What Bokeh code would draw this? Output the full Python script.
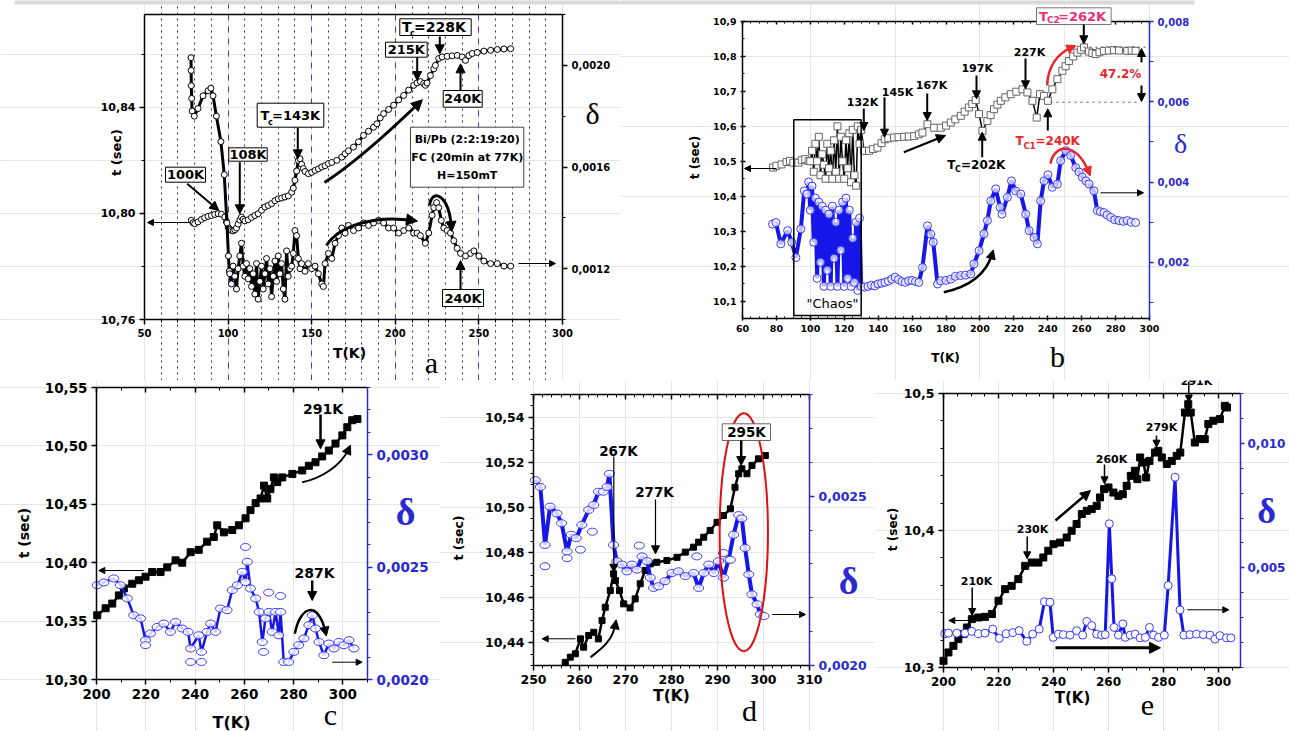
import math
from bokeh.plotting import figure
from bokeh.models import (Range1d, LinearAxis, FixedTicker, CustomJSTickFormatter,
                          Label, Arrow, NormalHead, BoxAnnotation, Grid)
from bokeh.layouts import row, column
from bokeh.embed import file_html
from bokeh.resources import INLINE

# ======================= DATA =======================
# ---- panel a ----
A_T_TEMP = [78, 79, 80, 82, 84, 86, 88, 90, 92, 94, 96, 98, 99, 100, 101, 102, 103, 104, 105, 106,
            107, 108, 109, 110, 112, 114, 116, 118, 120, 122, 124, 126, 128, 130, 132, 134, 136, 138, 139, 140,
            141, 142, 143, 144, 145, 146, 148, 150, 152, 154, 156, 158, 160, 162, 165, 168, 170, 172, 175, 178,
            181, 184, 187, 189, 191, 193, 196, 199, 202, 205, 208, 211, 213, 215, 217, 218, 219, 221, 223, 224,
            226, 228, 231, 234, 237, 240, 242, 244, 246, 249, 253, 257, 261, 265, 269]
A_T_VAL = [10.7974, 10.7965, 10.7961, 10.7968, 10.7977, 10.7984, 10.7989, 10.7992, 10.7996, 10.7999,
           10.7997, 10.7986, 10.7968, 10.7948, 10.7940, 10.7936, 10.7934, 10.7938, 10.7945, 10.7960,
           10.7975, 10.7986, 10.7978, 10.7972, 10.7976, 10.7985, 10.7992, 10.7999, 10.8012, 10.8024,
           10.8030, 10.8037, 10.8048, 10.8055, 10.8058, 10.8062, 10.8066, 10.8080, 10.8095, 10.8125,
           10.8160, 10.8200, 10.8206, 10.8185, 10.8169, 10.8158, 10.8150, 10.8155, 10.8162, 10.8168,
           10.8175, 10.8180, 10.8188, 10.8192, 10.8200, 10.8212, 10.8225, 10.8236, 10.8250, 10.8270,
           10.8294, 10.8310, 10.8325, 10.8338, 10.8360, 10.8376, 10.8392, 10.8408, 10.8428, 10.8445,
           10.8465, 10.8483, 10.8492, 10.8497, 10.8490, 10.8483, 10.8492, 10.8520, 10.8545, 10.8558,
           10.8584, 10.8590, 10.8592, 10.8594, 10.8596, 10.8590, 10.8577, 10.8595, 10.8603, 10.8607,
           10.8612, 10.8615, 10.8618, 10.8620, 10.8621]
A_D_TEMP = [77.8, 77.9, 78.0, 78.2, 78.5, 79.8, 82, 85, 88, 89.7, 91, 93, 95.7, 97.7, 99.3, 100.2, 100.7,
            101, 102, 103, 104, 105, 106, 107, 108, 109, 110, 111, 112, 113, 114, 115, 116, 117, 118, 119, 120,
            121, 122, 123, 124, 125, 126, 127, 128, 129, 130, 131, 132, 133, 134, 135, 136, 137, 138, 139, 140,
            141, 142, 143, 144, 146, 148, 150, 152, 154, 156, 157, 158, 160, 162, 164, 166, 168, 170,
            172, 175, 178, 181, 184, 187, 190, 193, 196, 199, 202, 205, 208, 211, 213, 215, 218, 220, 222, 223,
            224.7, 226, 227.5, 229, 231, 233, 235, 237, 239, 242, 245, 247, 250, 253, 257, 261, 265, 269]
A_D_VAL = [0.00203, 0.00198, 0.00192, 0.00187, 0.00182, 0.00180, 0.00183, 0.00188, 0.00190, 0.00191,
           0.00188, 0.00180, 0.00170, 0.00157, 0.00138, 0.00125, 0.00119,
           0.00118, 0.00114, 0.00121, 0.00117, 0.00112, 0.00120, 0.00125, 0.00130, 0.00121, 0.00117,
           0.00122, 0.00116, 0.00120, 0.00113, 0.00118, 0.00110, 0.00122, 0.00108, 0.00115, 0.00121,
           0.00112, 0.00118, 0.00124, 0.00114, 0.00120, 0.00109, 0.00117, 0.00123, 0.00115, 0.00125,
           0.00118, 0.00122, 0.00112, 0.00108, 0.00127, 0.00117, 0.00120, 0.00121, 0.00126, 0.00135,
           0.00133, 0.00124, 0.00120, 0.00122, 0.00119, 0.00122, 0.00120, 0.00121, 0.00118, 0.00114,
           0.00113, 0.00122, 0.00126, 0.00124, 0.00130, 0.00133, 0.00136, 0.00134,
           0.00137, 0.00135, 0.00136, 0.00138, 0.00137, 0.00138, 0.00139, 0.00138, 0.00136, 0.00136,
           0.00134, 0.00135, 0.00136, 0.00134, 0.00134, 0.00133, 0.00130, 0.00134, 0.00141, 0.00144,
           0.00146, 0.00144, 0.00139, 0.00136, 0.00135, 0.00134, 0.00131, 0.00128, 0.00126, 0.00125,
           0.00126, 0.00127, 0.00125, 0.00123, 0.00122, 0.00122, 0.00121, 0.00121]

# ---- panel b ----
B_T_TEMP = [78, 80, 83, 86, 88, 90, 93, 95, 97, 99,
            100, 101, 102, 103, 104, 105, 106, 107, 108, 109, 110, 111, 112, 113, 114, 115, 116, 117, 118, 119,
            120, 121, 122, 123, 124, 125, 126, 127, 128, 129, 130,
            131.7, 134.6, 137, 139.6, 142, 143.9, 146, 149.4, 152, 155.3, 158, 161.2, 164, 166.1, 169.1, 173,
            176.9, 180, 182.8, 185.5, 188.7, 191, 193.6, 195.5, 197.5, 199.5, 201.5, 204.4, 206.3, 208.3,
            210.3, 212.3, 215, 218.2, 221.5, 225.1, 228, 231, 233.5, 235.4, 237.8, 240.1, 242.7, 245.7,
            248.6, 250.5, 252.5, 255, 257.5, 259.5, 261.4, 264.3, 266.3, 268.3, 270.5, 273.1, 276, 279, 282,
            286.9, 289.5, 291.8]
B_T_VAL = [10.482, 10.487, 10.491, 10.498, 10.501, 10.496, 10.496, 10.503, 10.506, 10.501,
           10.50, 10.53, 10.47, 10.55, 10.50, 10.57, 10.46, 10.52, 10.49, 10.45, 10.55, 10.48, 10.53, 10.45,
           10.56, 10.47, 10.60, 10.45, 10.57, 10.50, 10.45, 10.56, 10.48, 10.58, 10.44, 10.59, 10.46, 10.43,
           10.60, 10.55, 10.59,
           10.530, 10.530, 10.535, 10.539, 10.552, 10.563, 10.566, 10.568, 10.569, 10.570, 10.571, 10.572,
           10.577, 10.582, 10.606, 10.596, 10.596, 10.602, 10.611, 10.620, 10.630, 10.642, 10.654, 10.664,
           10.675, 10.635, 10.587, 10.615, 10.632, 10.649, 10.662, 10.673, 10.683, 10.692, 10.699, 10.706,
           10.697, 10.673, 10.625, 10.692, 10.687, 10.673, 10.706, 10.735, 10.759, 10.772, 10.787, 10.800,
           10.811, 10.819, 10.826, 10.814, 10.810, 10.807, 10.812, 10.816, 10.817, 10.818, 10.817, 10.816,
           10.817, 10.816]
B_D_TEMP = [77.7, 79.7, 82.6, 86.6, 89, 91.5, 94.4, 96.4, 98,
            99, 100, 101, 102, 103, 104, 105, 106, 107, 108, 109, 110, 111, 112, 113, 114, 115, 116, 117, 118,
            119, 120, 121, 122, 123, 124, 125, 126, 127, 128, 129, 130,
            132, 134, 136, 138, 140, 142, 144, 146, 148, 150, 152, 154, 156, 158, 160, 162, 164, 166.1, 169.1,
            171, 172.5, 175, 176.9, 180, 182.8, 185.5, 188.7, 191.5, 194.6, 196.5, 199.5, 202.4, 204.4, 206.4,
            209.3, 211.9, 213, 216.2, 218.6, 221.1, 224.1, 227, 229, 231.9, 233.9, 235.8, 237.8, 240.1, 242.7,
            245.7, 247.6, 250.6, 253.5, 256.5, 258.5, 260.4, 262.5, 264.3, 267.2, 269.2, 271, 273.1, 275,
            277.1, 279.5, 282, 284.5, 286.9, 289.3, 291.8]
B_D_VAL = [0.00295, 0.00299, 0.00246, 0.00279, 0.00250, 0.00212, 0.00283, 0.00378, 0.00370,
           0.00400, 0.00330, 0.00390, 0.00250, 0.00360, 0.00160, 0.00350, 0.00200, 0.00340, 0.00140,
           0.00330, 0.00180, 0.00320, 0.00140, 0.00340, 0.00210, 0.00300, 0.00140, 0.00330, 0.00230,
           0.00350, 0.00140, 0.00360, 0.00160, 0.00330, 0.00140, 0.00260, 0.00150, 0.00300, 0.00130,
           0.00310, 0.00140,
           0.00138, 0.00140, 0.00143, 0.00141, 0.00146, 0.00148, 0.00150, 0.00153, 0.00158, 0.00163,
           0.00157, 0.00152, 0.00150, 0.00154, 0.00155, 0.00152, 0.00150, 0.00187, 0.00291, 0.00270,
           0.00250, 0.00146, 0.00154, 0.00155, 0.00158, 0.00165, 0.00167, 0.00168, 0.00171, 0.00196,
           0.00229, 0.00271, 0.00304, 0.00353, 0.00383, 0.00337, 0.00320, 0.00362, 0.00403, 0.00378,
           0.00370, 0.00320, 0.00279, 0.00262, 0.00246, 0.00353, 0.00403, 0.00418, 0.00387, 0.00395,
           0.00453, 0.00478, 0.00466, 0.00436, 0.00425, 0.00412, 0.00403, 0.00395, 0.00378, 0.00329,
           0.00326, 0.00324, 0.00318, 0.00312, 0.00306, 0.00304, 0.00302, 0.00304, 0.00300, 0.00299]

# ---- panel c ----
C_T_TEMP = [200.3, 203.7, 206.4, 209.1, 211.1, 214.5, 217.2, 219.9, 222.6, 226.0, 228.7, 232.1, 234.8,
            238.2, 241.5, 244.9, 247.6, 249.0, 251.7, 255.1, 257.8, 260.5, 262.5, 264.6, 266.6, 268.0,
            269.3, 270.6, 272.0, 273.4, 275.4, 279.5, 283.5, 286.2, 288.9, 291.6, 294.3, 297.0, 299.8,
            301.8, 303.8, 305.9]
C_T_VAL = [10.355, 10.361, 10.365, 10.372, 10.378, 10.382, 10.385, 10.388, 10.392, 10.392, 10.396, 10.402,
           10.400, 10.409, 10.411, 10.418, 10.422, 10.432, 10.426, 10.428, 10.432, 10.438, 10.445, 10.451,
           10.455, 10.466, 10.455, 10.463, 10.473, 10.469, 10.473, 10.476, 10.479, 10.483, 10.486, 10.491,
           10.496, 10.502, 10.509, 10.516, 10.522, 10.523]
C_D_TEMP = [200.3, 203.0, 207.0, 209.7, 212.5, 215.1, 217.9, 219.9, 221.9, 224.6, 227.3, 230.0, 232.1,
            234.8, 237.2, 238.2, 241.5, 242.6, 244.9, 246.3, 248.3, 250.3, 253.0, 255.1, 257.2, 259.2,
            260.5, 261.2, 262.5, 264.6, 266.0, 267.3, 268.6, 270.0, 271.3, 272.7, 274.0, 274.7, 276.0,
            278.0, 280.1, 282.1, 284.2, 286.2, 287.6, 288.9, 290.3, 292.3, 294.3, 296.4, 298.4, 300.4,
            302.5, 304.5]
C_D_VAL = [0.002420, 0.002432, 0.002450, 0.002420, 0.002361, 0.002286, 0.002272, 0.002175, 0.002205,
           0.002234, 0.002249, 0.002212, 0.002256, 0.002227, 0.002212, 0.002138, 0.002197, 0.002123,
           0.002212, 0.002249, 0.002212, 0.002316, 0.002309, 0.002398, 0.002420, 0.002479, 0.002434,
           0.002524, 0.002405, 0.002361, 0.002301, 0.002167, 0.002272, 0.002301, 0.002212, 0.002301,
           0.002197, 0.002301, 0.002078, 0.002078, 0.002123, 0.002153, 0.002183, 0.002242, 0.002286,
           0.002227, 0.002167, 0.002108, 0.002160, 0.002138, 0.002167, 0.002153, 0.002175, 0.002138]
C_DX_TEMP = [260.5, 269.9, 274.7, 267.8, 238.2, 242.6, 219.9]
C_DX_VAL = [0.002590, 0.002387, 0.002372, 0.002123, 0.002078, 0.002078, 0.002153]

# ---- panel d ----
D_T_TEMP = [256.9, 258.0, 259.1, 260.2, 260.9, 262.0, 263.1, 264.1, 264.9, 265.6, 266.7, 267.4,
            267.8, 268.7, 269.6, 271.0, 272.1, 273.2, 274.3, 275.4, 276.8, 279.0, 281.2, 283.0, 284.8,
            285.9, 287.0, 288.4, 289.9, 291.3, 292.8, 293.8, 294.6, 295.3, 296.4, 297.5, 298.9, 300.4]
D_T_VAL = [10.4314, 10.4337, 10.4352, 10.4418, 10.4381, 10.4433, 10.4447, 10.4418, 10.4499,
           10.4558, 10.4632, 10.4706, 10.4676, 10.4632, 10.4573, 10.4555, 10.4595, 10.4662, 10.4721,
           10.4750, 10.4757, 10.4765, 10.4779, 10.4802, 10.4824, 10.4846, 10.4868, 10.4898, 10.4934,
           10.4964, 10.4994, 10.5089, 10.5149, 10.5171, 10.5149, 10.5186, 10.5215, 10.5230]
D_D_TEMP = [250.4, 251.5, 252.5, 253.6, 255.1, 256.1, 257.3, 258.2, 259.3, 260.5, 262.0, 263.1, 264.1,
            265.2, 266.0, 266.5, 267.4, 268.1, 269.2, 270.3, 271.4, 272.5, 273.6, 274.7, 275.4, 276.1,
            277.2, 278.6, 280.1, 281.5, 283.0, 284.8, 285.9, 287.0, 288.1, 289.2, 290.2, 291.3, 292.4,
            293.5, 294.6, 295.3, 296.0, 296.8, 297.5, 298.6, 299.3, 300.1]
D_D_VAL = [0.002547, 0.002527, 0.002356, 0.002469, 0.002449, 0.002420, 0.002337, 0.002386, 0.002376,
           0.002415, 0.002459, 0.002474, 0.002513, 0.002513, 0.002527, 0.002566, 0.002356, 0.002308,
           0.002298, 0.002278, 0.002298, 0.002283, 0.002322, 0.002308, 0.002259, 0.002229, 0.002234,
           0.002249, 0.002273, 0.002278, 0.002264, 0.002273, 0.002229, 0.002273, 0.002298, 0.002273,
           0.002308, 0.002259, 0.002312, 0.002386, 0.002444, 0.002434, 0.002347, 0.002269, 0.002210,
           0.002181, 0.002151, 0.002146]
D_DX_TEMP = [252.5, 257.3, 260.2, 262.8, 273.0, 285.5, 291.3, 292.8]
D_DX_VAL = [0.002293, 0.002317, 0.002342, 0.002395, 0.002354, 0.002322, 0.002332, 0.002312]

# ---- panel e ----
E_T_TEMP = [200.0, 201.8, 203.6, 205.4, 207.3, 208.5, 210.3, 212.7, 215.1, 217.6, 220.0, 222.4, 224.8,
            227.2, 229.7, 232.1, 234.5, 236.3, 238.1, 240.0, 242.4, 244.8, 246.6, 248.4, 250.3, 252.1,
            253.9, 255.7, 256.9, 258.4, 260.0, 261.8, 263.6, 265.2, 266.6, 268.1, 269.6, 270.5, 271.5,
            272.7, 273.7, 274.9, 276.9, 278.1, 279.4, 281.2, 283.0, 284.8, 286.1, 287.8, 289.0, 289.9,
            291.4, 293.2, 295.0, 296.3, 298.1, 300.5, 302.3, 303.1]
E_T_VAL = [10.3049, 10.3110, 10.3158, 10.3207, 10.3244, 10.3292, 10.3353, 10.3365, 10.3370, 10.3390,
           10.3487, 10.3572, 10.3596, 10.3645, 10.3742, 10.3766, 10.3766, 10.3803, 10.3852, 10.3900,
           10.3912, 10.3949, 10.3998, 10.4047, 10.4120, 10.4144, 10.4156, 10.4180, 10.4241, 10.4302,
           10.4314, 10.4277, 10.4253, 10.4265, 10.4326, 10.4399, 10.4436, 10.4375, 10.4533, 10.4496,
           10.4387, 10.4508, 10.4569, 10.4582, 10.4533, 10.4485, 10.4508, 10.4545, 10.4569, 10.4861,
           10.4922, 10.4861, 10.4642, 10.4667, 10.4667, 10.4777, 10.4801, 10.4813, 10.4910, 10.4898]
E_D_TEMP = [200.5, 201.8, 204.8, 207.8, 210.3, 212.7, 215.1, 217.9, 220.3, 222.8, 225.2, 227.5, 230.3,
            232.4, 234.8, 236.7, 238.7, 239.9, 241.8, 243.6, 246.0, 248.4, 250.6, 252.1, 253.9, 255.7,
            257.5, 258.8, 260.3, 261.2, 262.0, 263.6, 265.2, 266.1, 267.9, 269.7, 271.5, 273.4, 274.9,
            276.4, 278.2, 280.3, 281.7, 284.2, 286.0, 287.4, 289.6, 292.0, 294.5, 296.9, 298.7, 300.5,
            302.9, 304.5]
E_D_VAL = [0.00236, 0.00238, 0.00238, 0.00238, 0.00245, 0.00236, 0.00238, 0.00254, 0.00217, 0.00236,
           0.00240, 0.00248, 0.00205, 0.00234, 0.00254, 0.00364, 0.00362, 0.00221, 0.00234, 0.00232,
           0.00230, 0.00248, 0.00230, 0.00285, 0.00268, 0.00234, 0.00230, 0.00232, 0.00677, 0.00456,
           0.00261, 0.00230, 0.00275, 0.00221, 0.00230, 0.00234, 0.00219, 0.00221, 0.00261, 0.00230,
           0.00221, 0.00230, 0.00429, 0.00864, 0.00331, 0.00230, 0.00232, 0.00234, 0.00232, 0.00230,
           0.00214, 0.00228, 0.00219, 0.00219]

# ---- ticks ----
A_X_TICKS = [50, 100, 150, 200, 250, 300]
A_L_TICKS = [10.76, 10.80, 10.84]
A_R_TICKS = [0.0012, 0.0016, 0.0020]
A_GRID_DOT = [60, 70, 80, 90, 110, 120, 130, 140, 160, 170, 180, 190, 210, 220, 230, 240, 260, 270, 280, 290]
A_GRID_DASH = [100, 150, 200, 250]
B_X_TICKS = [60, 80, 100, 120, 140, 160, 180, 200, 220, 240, 260, 280, 300]
B_L_TICKS = [10.1, 10.2, 10.3, 10.4, 10.5, 10.6, 10.7, 10.8, 10.9]
B_R_TICKS = [0.002, 0.004, 0.006, 0.008]
C_X_TICKS = [200, 220, 240, 260, 280, 300]
C_L_TICKS = [10.30, 10.35, 10.40, 10.45, 10.50, 10.55]
C_R_TICKS = [0.0020, 0.0025, 0.0030]
D_X_TICKS = [250, 260, 270, 280, 290, 300, 310]
D_L_TICKS = [10.44, 10.46, 10.48, 10.50, 10.52, 10.54]
D_R_TICKS = [0.0020, 0.0025]
E_X_TICKS = [200, 220, 240, 260, 280, 300]
E_L_TICKS = [10.3, 10.4, 10.5]
E_R_TICKS = [0.005, 0.010]

# ======================= STYLE / HELPERS =======================
SANS = "DejaVu Sans"
SERIF = "Liberation Serif"
BLUE = "#1616e8"
AXBLUE = "#2a2ad0"
MBLUE = "#3a3aff"
RED = "#e8262b"
MAGENTA = "#e8307a"


def steps(a, b, s):
    n = int(round((b - a) / s))
    return [round(a + i * s, 6) for i in range(n + 1)]


class M:
    """maps page pixels to the data units of a panel's plot box"""
    def __init__(s, fx0, fx1, fy0, fy1, xr, yr):
        s.fx0, s.fx1, s.fy0, s.fy1, s.xr, s.yr = fx0, fx1, fy0, fy1, xr, yr

    def x(s, px):
        return s.xr[0] + (px - s.fx0) * (s.xr[1] - s.xr[0]) / (s.fx1 - s.fx0)

    def y(s, py):
        return s.yr[1] - (py - s.fy0) * (s.yr[1] - s.yr[0]) / (s.fy1 - s.fy0)

    def dx(s, w):
        return w * (s.xr[1] - s.xr[0]) / (s.fx1 - s.fx0)

    def dy(s, h):
        return h * (s.yr[1] - s.yr[0]) / (s.fy1 - s.fy0)


def ext_x(r, p0, p1, total):
    s = (r[1] - r[0]) / (p1 - p0)
    return (r[0] - p0 * s, r[1] + (total - p1) * s)


def ext_y(r, p0, p1, total):
    s = (r[1] - r[0]) / (p1 - p0)
    return (r[0] - (total - p1) * s, r[1] + p0 * s)


def panel(w, h, box_px, xr, yr, yr2):
    fx0, fx1, fy0, fy1 = box_px
    p = figure(width=w, height=h, x_range=Range1d(*ext_x(xr, fx0, fx1, w)),
               y_range=Range1d(*ext_y(yr, fy0, fy1, h)),
               output_backend="svg", toolbar_location=None, title=None,
               x_axis_location=None, y_axis_location=None,
               min_border=0, min_border_left=0, min_border_right=0, min_border_top=0, min_border_bottom=0,
               background_fill_color="white", border_fill_color="white")
    p.extra_y_ranges = {"d": Range1d(*ext_y(yr2, fy0, fy1, h))}
    p.outline_line_color = None
    return p


def add_axis(p, side, fixed, bounds, ticks, minor, ndec, fs, color="black", tin=0, tout=5, mi=0, mo=3,
             standoff=4, labels=True, rname=None):
    kw = {"fixed_location": fixed, "bounds": bounds}
    if rname:
        kw["y_range_name"] = rname
    ax = LinearAxis(**kw)
    ax.ticker = FixedTicker(ticks=ticks, minor_ticks=minor)
    if labels:
        ax.formatter = CustomJSTickFormatter(code="return tick.toFixed(%d).replace('.', ',');" % ndec)
    else:
        ax.formatter = CustomJSTickFormatter(code="return '';")
    ax.axis_line_color = color
    ax.axis_line_width = 1.5
    ax.major_tick_line_color = color
    ax.minor_tick_line_color = color
    ax.major_tick_line_width = 1.5
    ax.minor_tick_line_width = 1
    ax.major_tick_in = tin
    ax.major_tick_out = tout
    ax.minor_tick_in = mi
    ax.minor_tick_out = mo
    ax.major_label_text_color = color
    ax.major_label_text_font = SANS
    ax.major_label_text_font_style = "bold"
    ax.major_label_text_font_size = "%spx" % fs
    ax.major_label_standoff = standoff
    p.add_layout(ax, side)
    return ax


def lab(p, m, px, py, text, fs=12, color="black", bold=True, font=SANS, align="center", angle=0.0):
    p.add_layout(Label(x=m.x(px), y=m.y(py), text=text, text_font=font, text_font_size="%spx" % fs,
                       text_font_style="bold" if bold else "normal", text_color=color,
                       text_align=align, text_baseline="middle", angle=angle))


def box(p, m, x0, x1, y0, y1, color="black", lw=1, fill="white"):
    p.add_layout(BoxAnnotation(left=m.x(x0), right=m.x(x1), top=m.y(y0), bottom=m.y(y1),
                               fill_color=fill if fill else "white", fill_alpha=1.0 if fill else 0.0,
                               line_color=color, line_alpha=1.0 if color else 0.0, line_width=lw))


def arrow(p, m, x0, y0, x1, y1, lw=2, hs=9, color="black"):
    p.add_layout(Arrow(end=NormalHead(size=hs, fill_color=color, line_color=color, line_width=1),
                       x_start=m.x(x0), y_start=m.y(y0), x_end=m.x(x1), y_end=m.y(y1),
                       line_width=lw, line_color=color))


def carrow(p, m, pts, lw=3, hs=11, color="black"):
    (x0, y0), (ax_, ay_), (bx_, by_), (x1, y1) = pts
    p.bezier(x0=[m.x(x0)], y0=[m.y(y0)], x1=[m.x(x1)], y1=[m.y(y1)],
             cx0=[m.x(ax_)], cy0=[m.y(ay_)], cx1=[m.x(bx_)], cy1=[m.y(by_)],
             line_width=lw, line_color=color)
    ddx, ddy = x1 - bx_, y1 - by_
    L = math.hypot(ddx, ddy) or 1.0
    ux, uy = ddx / L, ddy / L
    arrow(p, m, x1 - ux * 3, y1 - uy * 3, x1 + ux * 4, y1 + uy * 4, lw=lw, hs=hs, color=color)


# ======================= PANEL a =======================
A_XR, A_YR, A_YR2 = (50, 300), (10.76, 10.875), (0.0010, 0.0022)
ma = M(144, 562, 14, 319, A_XR, A_YR)
pa = panel(620, 380, (144, 562, 14, 319), A_XR, A_YR, A_YR2)
box(pa, ma, 14, 622, -2, 4, color=None, fill="#d9d9d9")
pa.add_layout(Grid(dimension=0, ticker=FixedTicker(ticks=A_GRID_DOT), bounds=A_YR, grid_line_color="#333333",
                   grid_line_dash="dotted", grid_line_width=1))
pa.add_layout(Grid(dimension=0, ticker=FixedTicker(ticks=A_GRID_DASH), bounds=A_YR, grid_line_color="#3b3bd6",
                   grid_line_dash="dashed", grid_line_width=1))
add_axis(pa, "below", A_YR[0], A_XR, A_X_TICKS, steps(50, 300, 10), 0, 10, tout=5, mo=3)
add_axis(pa, "left", A_XR[0], A_YR, A_L_TICKS, steps(10.76, 10.86, 0.02), 2, 11, tout=5, mo=3)
add_axis(pa, "right", A_XR[1], A_YR2, A_R_TICKS, steps(0.0010, 0.0022, 0.0002), 4, 10, tout=5, mo=3, rname="d")
add_axis(pa, "above", A_YR[1], A_XR, [], [], 0, 10, tout=0, mo=0, labels=False)

pa.line(A_T_TEMP, A_T_VAL, line_width=3, color="black")
pa.scatter(A_T_TEMP, A_T_VAL, marker="circle", size=6, fill_color="white", line_color="black", line_width=1)
pa.line(A_D_TEMP, A_D_VAL, y_range_name="d", line_width=3, color="black")
pa.scatter(A_D_TEMP, A_D_VAL, y_range_name="d", marker="circle", size=6, fill_color="white",
           line_color="black", line_width=1)

box(pa, ma, 165, 205, 166.7, 181.7)
lab(pa, ma, 185, 174.2, "100K", 13)
box(pa, ma, 228.3, 266.7, 147.3, 160.7)
lab(pa, ma, 247.5, 154, "108K", 13)
box(pa, ma, 256.7, 323.3, 102.7, 126.7)
lab(pa, ma, 260, 114.7, "T", 13, align="left")
lab(pa, ma, 267.5, 121.5, "c", 8, align="left")
lab(pa, ma, 271.5, 114.7, "=143K", 13, align="left")
box(pa, ma, 385, 426.7, 41.7, 56.7)
lab(pa, ma, 405.8, 49.2, "215K", 13)
box(pa, ma, 399.3, 470.7, 18.3, 35)
lab(pa, ma, 401.5, 26.7, "T", 14, align="left")
lab(pa, ma, 409.5, 33, "c", 8, align="left")
lab(pa, ma, 413.5, 26.7, "=228K", 14, align="left")
box(pa, ma, 442.7, 481.7, 90, 106.7)
lab(pa, ma, 462.2, 98.3, "240K", 13)
box(pa, ma, 442, 483, 289, 306)
lab(pa, ma, 462.5, 297.5, "240K", 13)
box(pa, ma, 410, 523.3, 126.7, 186.7, color="#444444")
lab(pa, ma, 466.7, 138.5, "Bi/Pb (2:2:19:20)", 11)
lab(pa, ma, 466.7, 156.7, "FC (20min at 77K)", 11)
lab(pa, ma, 466.7, 174.5, "H=150mT", 11)

arrow(pa, ma, 186.7, 183.3, 218.3, 210, lw=2, hs=9)
arrow(pa, ma, 239.3, 161.7, 239.3, 213.3, lw=2, hs=9)
arrow(pa, ma, 297.3, 127.3, 297.3, 158.3, lw=2, hs=9)
arrow(pa, ma, 416.7, 56.7, 416.7, 80, lw=2, hs=9)
arrow(pa, ma, 439.3, 36, 439.3, 53.3, lw=2, hs=9)
arrow(pa, ma, 460, 90, 460, 63.3, lw=2, hs=9)
arrow(pa, ma, 460, 289, 460, 260, lw=2, hs=9)
arrow(pa, ma, 190, 222, 147, 222, lw=1, hs=6)
arrow(pa, ma, 518, 263, 555, 263, lw=1, hs=6)
carrow(pa, ma, [(324, 182), (355, 162), (390, 130), (419, 102)], lw=3, hs=11)
carrow(pa, ma, [(326, 245), (338, 226), (372, 214), (413, 220)], lw=3, hs=11)
carrow(pa, ma, [(429, 205), (431, 188), (448, 192), (451, 227)], lw=3, hs=10)

lab(pa, ma, 592, 113, "δ", 30, bold=False, font=SERIF)
lab(pa, ma, 115.6, 152, "t (sec)", 13, angle=math.pi / 2)
lab(pa, ma, 349, 352, "T(K)", 14)
lab(pa, ma, 431, 362, "a", 30, bold=False, font=SERIF)

# ======================= PANEL b =======================
B_XR, B_YR, B_YR2 = (60, 300), (10.05, 10.9), (0.0006, 0.008)
mb = M(742, 1149, 21, 318, B_XR, B_YR)
pb = panel(669, 380, (122, 529, 21, 318), B_XR, B_YR, B_YR2)
box(pb, mb, 618, 1194, -2, 4, color=None, fill="#d9d9d9")
add_axis(pb, "below", B_YR[0], B_XR, B_X_TICKS, steps(60, 300, 5), 0, 9.5, tin=3, tout=2, mi=2, mo=0)
add_axis(pb, "above", B_YR[1], B_XR, B_X_TICKS, steps(60, 300, 5), 0, 9.5, tin=3, tout=0, mi=2, mo=0,
         labels=False)
add_axis(pb, "left", B_XR[0], B_YR, B_L_TICKS, steps(10.05, 10.9, 0.05), 1, 9.5, tin=3, tout=2, mi=2, mo=0)
add_axis(pb, "right", B_XR[1], B_YR2, B_R_TICKS, steps(0.001, 0.008, 0.001), 3, 10, color=AXBLUE,
         tin=0, tout=4, mi=0, mo=4, rname="d")

pb.line(B_T_TEMP, B_T_VAL, line_width=1.5, color="black")
pb.scatter(B_T_TEMP, B_T_VAL, marker="square", size=7, fill_color="white", line_color="#666666", line_width=1)
pb.line(B_D_TEMP, B_D_VAL, y_range_name="d", line_width=4, color=BLUE)
pb.scatter(B_D_TEMP, B_D_VAL, y_range_name="d", marker="circle", size=8, fill_color="white", fill_alpha=0.7,
           line_color=MBLUE, line_width=1)

box(pb, mb, 793.3, 860.7, 119.3, 315, fill=None, lw=1.5)
lab(pb, mb, 832, 303, "\"Chaos\"", 13, bold=False)
pb.segment(x0=[mb.x(1083)], y0=[mb.y(46.7)], x1=[mb.x(1149)], y1=[mb.y(46.7)],
           line_dash="dotted", line_color="#555555", line_width=1)
pb.segment(x0=[mb.x(1050)], y0=[mb.y(101.7)], x1=[mb.x(1140)], y1=[mb.y(101.7)],
           line_dash="dotted", line_color="#555555", line_width=1)

lab(pb, mb, 862, 102, "132K", 11)
lab(pb, mb, 897, 92, "145K", 11)
lab(pb, mb, 931, 85, "167K", 11)
lab(pb, mb, 976.7, 68.3, "197K", 11)
lab(pb, mb, 1029, 52.3, "227K", 11)
lab(pb, mb, 946.7, 164, "T", 12, align="left")
lab(pb, mb, 954.5, 168.5, "C", 8, align="left")
lab(pb, mb, 960.5, 164, "=202K", 12, align="left")
lab(pb, mb, 1015, 140, "T", 12, color=RED, align="left")
lab(pb, mb, 1023, 145, "C1", 8.5, color=RED, align="left")
lab(pb, mb, 1035, 140, "=240K", 12, color=RED, align="left")
box(pb, mb, 1036, 1110.6, 7.3, 24, color="#777777")
lab(pb, mb, 1038.5, 15.7, "T", 13, color=MAGENTA, align="left")
lab(pb, mb, 1046.5, 19.5, "C2", 9, color=MAGENTA, align="left")
lab(pb, mb, 1057.5, 15.7, "=262K", 13, color=MAGENTA, align="left")
lab(pb, mb, 1120, 73.3, "47.2%", 12, color=RED)

arrow(pb, mb, 863.3, 108, 863.3, 130, lw=2, hs=8)
arrow(pb, mb, 884, 96.7, 884, 136.7, lw=2, hs=8)
arrow(pb, mb, 926.7, 93, 926.7, 120, lw=2, hs=8)
arrow(pb, mb, 976, 75, 976, 98.3, lw=2, hs=8)
arrow(pb, mb, 1025, 58, 1025, 88.3, lw=2, hs=8)
arrow(pb, mb, 981.7, 156.7, 981.7, 131.7, lw=2, hs=8)
arrow(pb, mb, 1047.3, 130, 1047.3, 108.3, lw=2, hs=8)
arrow(pb, mb, 1083.3, 24, 1083.3, 43.3, lw=2, hs=8)
arrow(pb, mb, 1141, 62, 1141, 48, lw=2, hs=8)
arrow(pb, mb, 1141, 85, 1141, 101, lw=2, hs=8)
arrow(pb, mb, 903.3, 151.7, 945, 135, lw=2, hs=9)
arrow(pb, mb, 776, 168, 744, 168, lw=1, hs=6)
arrow(pb, mb, 1100, 192.3, 1143, 192.3, lw=1, hs=6)
carrow(pb, mb, [(1046.7, 85), (1047, 66), (1057, 53), (1071.7, 46.7)], lw=2.5, hs=9, color=RED)
carrow(pb, mb, [(1050, 163.3), (1053, 144), (1076, 140), (1088.3, 171.7)], lw=2.5, hs=9, color=RED)
carrow(pb, mb, [(943.3, 291.7), (965, 287), (985, 276), (991.7, 253.3)], lw=2.5, hs=9)

lab(pb, mb, 1180, 143, "δ", 28, color=AXBLUE, bold=False, font=SERIF)
lab(pb, mb, 694.5, 157, "t (sec)", 12, angle=math.pi / 2)
lab(pb, mb, 945, 357, "T(K)", 12)
lab(pb, mb, 1057, 356, "b", 30, bold=False, font=SERIF)

# ======================= PANEL c =======================
C_XR, C_YR, C_YR2 = (200, 310), (10.30, 10.55), (0.0020, 0.0033)
mc = M(96, 367, 387, 679, C_XR, C_YR)
pc = panel(440, 351, (96, 367, 7, 299), C_XR, C_YR, C_YR2)
add_axis(pc, "below", C_YR[0], C_XR, C_X_TICKS, steps(200, 310, 10), 0, 13.5, tin=0, tout=5, mi=0, mo=3)
add_axis(pc, "above", C_YR[1], C_XR, C_X_TICKS, steps(200, 310, 10), 0, 13.5, tin=5, tout=0, mi=3, mo=0,
         labels=False)
add_axis(pc, "left", C_XR[0], C_YR, C_L_TICKS, [], 2, 13.5, tin=0, tout=5)
add_axis(pc, "right", C_XR[1], C_YR2, C_R_TICKS, steps(0.0020, 0.0033, 0.0001), 4, 13.5, color=AXBLUE,
         tin=0, tout=5, mi=0, mo=3, rname="d")

pc.line(C_T_TEMP, C_T_VAL, line_width=2.5, color="black")
pc.scatter(C_T_TEMP, C_T_VAL, marker="square", size=7, fill_color="black", line_color="black")
pc.line(C_D_TEMP, C_D_VAL, y_range_name="d", line_width=2.5, color=BLUE)
pc.ellipse(C_D_TEMP + C_DX_TEMP, C_D_VAL + C_DX_VAL, y_range_name="d", width=10, height=7,
           width_units="screen", height_units="screen", fill_color="white", fill_alpha=0.8,
           line_color=MBLUE, line_width=1)

lab(pc, mc, 322.5, 408.3, "291K", 14)
lab(pc, mc, 314, 572.3, "287K", 14)
arrow(pc, mc, 320, 414, 320, 448.3, lw=2.5, hs=9)
arrow(pc, mc, 311.7, 580, 311.7, 600, lw=2.5, hs=9)
carrow(pc, mc, [(301.7, 481.7), (320, 478), (340, 466), (348.3, 448.3)], lw=2, hs=9)
carrow(pc, mc, [(294.3, 633.3), (300, 604), (318, 600), (325, 631.7)], lw=2.5, hs=9)
arrow(pc, mc, 143.3, 570, 98.3, 570, lw=1, hs=6)
arrow(pc, mc, 331.7, 661.7, 361.7, 661.7, lw=1, hs=6)

lab(pc, mc, 405, 511.7, "δ", 38, color=AXBLUE, font=SERIF)
lab(pc, mc, 23, 532.5, "t (sec)", 14, angle=math.pi / 2)
lab(pc, mc, 231, 722, "T(K)", 16)
lab(pc, mc, 330, 714, "c", 30, bold=False, font=SERIF)

# ======================= PANEL d =======================
D_XR, D_YR, D_YR2 = (250, 310), (10.43, 10.55), (0.0020, 0.0028)
md = M(533, 809, 394, 665, D_XR, D_YR)
pd_ = panel(435, 351, (93, 369, 14, 285), D_XR, D_YR, D_YR2)
add_axis(pd_, "below", D_YR[0], D_XR, D_X_TICKS, steps(250, 310, 2), 0, 12.5, tin=0, tout=5, mi=0, mo=3)
add_axis(pd_, "above", D_YR[1], D_XR, D_X_TICKS, steps(250, 310, 2), 0, 12.5, tin=5, tout=0, mi=3, mo=0,
         labels=False)
add_axis(pd_, "left", D_XR[0], D_YR, D_L_TICKS, steps(10.43, 10.55, 0.005), 2, 12.5, tin=0, tout=5, mi=0, mo=3)
add_axis(pd_, "right", D_XR[1], D_YR2, D_R_TICKS, steps(0.0020, 0.0028, 0.0001), 4, 12.5, color=AXBLUE,
         tin=0, tout=5, mi=0, mo=3, rname="d")

pd_.line(D_T_TEMP, D_T_VAL, line_width=2.5, color="black")
pd_.scatter(D_T_TEMP, D_T_VAL, marker="square", size=6, fill_color="black", line_color="black")
pd_.line(D_D_TEMP, D_D_VAL, y_range_name="d", line_width=4, color=BLUE)
pd_.ellipse(D_D_TEMP + D_DX_TEMP, D_D_VAL + D_DX_VAL, y_range_name="d", width=10, height=7,
            width_units="screen", height_units="screen", fill_color="white", fill_alpha=0.8,
            line_color=MBLUE, line_width=1)
pd_.ellipse(x=[md.x(743.3)], y=[md.y(531.7)], width=md.dx(48.3), height=md.dy(238),
            fill_color=None, line_color="#e01010", line_width=2)

box(pd_, md, 721.7, 770, 423.3, 440, color="#666666")
lab(pd_, md, 746, 431.7, "295K", 13.5)
lab(pd_, md, 618, 450, "267K", 13.5)
lab(pd_, md, 654, 491.7, "277K", 13.5)
arrow(pd_, md, 740.7, 440, 740.7, 465, lw=2.5, hs=9)
arrow(pd_, md, 613.3, 456, 613.3, 571.7, lw=1.2, hs=8)
arrow(pd_, md, 655, 499, 655, 553.3, lw=1.2, hs=8)
carrow(pd_, md, [(590, 656.7), (600, 649), (612, 641), (615, 623.3)], lw=2, hs=9)
arrow(pd_, md, 575, 638.3, 541.7, 638.3, lw=1, hs=6)
arrow(pd_, md, 771.7, 614, 805, 614, lw=1, hs=6)

lab(pd_, md, 848, 580, "δ", 38, color=AXBLUE, font=SERIF)
lab(pd_, md, 457.5, 537.5, "t (sec)", 12.5, angle=math.pi / 2)
lab(pd_, md, 671, 695, "T(K)", 15.5)
lab(pd_, md, 749, 710, "d", 30, bold=False, font=SERIF)

# ======================= PANEL e =======================
E_XR, E_YR, E_YR2 = (200, 308), (10.3, 10.5), (0.001, 0.012)
me = M(943, 1240, 393, 667, E_XR, E_YR)
pe = panel(414, 351, (68, 365, 13, 287), E_XR, E_YR, E_YR2)
add_axis(pe, "below", E_YR[0], E_XR, E_X_TICKS, steps(200, 305, 5), 0, 12, tin=0, tout=5, mi=0, mo=3)
add_axis(pe, "above", E_YR[1], E_XR, E_X_TICKS, steps(200, 305, 5), 0, 12, tin=5, tout=0, mi=3, mo=0,
         labels=False)
add_axis(pe, "left", E_XR[0], E_YR, E_L_TICKS, steps(10.3, 10.5, 0.02), 1, 12.5, tin=0, tout=5, mi=0, mo=3)
add_axis(pe, "right", E_XR[1], E_YR2, E_R_TICKS, steps(0.001, 0.012, 0.001), 3, 12, color=AXBLUE,
         tin=0, tout=4, mi=0, mo=3, standoff=3, rname="d")

pe.line(E_T_TEMP, E_T_VAL, line_width=2.5, color="black")
pe.scatter(E_T_TEMP, E_T_VAL, marker="square", size=7, fill_color="black", line_color="black")
pe.line(E_D_TEMP, E_D_VAL, y_range_name="d", line_width=3, color=BLUE)
pe.scatter(E_D_TEMP, E_D_VAL, y_range_name="d", marker="circle", size=8, fill_color="white",
           line_color=MBLUE, line_width=1)

lab(pe, me, 1196, 380.5, "291K", 11)
lab(pe, me, 1161, 426.7, "279K", 11)
lab(pe, me, 1111, 459, "260K", 11)
lab(pe, me, 1032, 529, "230K", 11)
lab(pe, me, 976, 581, "210K", 11)
arrow(pe, me, 1188.3, 381, 1188.3, 401.7, lw=1.5, hs=7)
arrow(pe, me, 1156, 435, 1156, 446.7, lw=1.5, hs=7)
arrow(pe, me, 1104, 464, 1104, 483.3, lw=1.5, hs=7)
arrow(pe, me, 1026.7, 536, 1026.7, 558.3, lw=1.5, hs=7)
arrow(pe, me, 971.7, 587, 971.7, 615, lw=1.5, hs=7)
arrow(pe, me, 1055, 520, 1090, 490, lw=2.5, hs=10)
arrow(pe, me, 1055, 647.3, 1160, 647.3, lw=3, hs=11)
arrow(pe, me, 971.7, 620, 948.3, 620, lw=1, hs=6)
arrow(pe, me, 1186.7, 609.3, 1228.3, 609.3, lw=1, hs=6)

lab(pe, me, 1266, 510, "δ", 36, color=AXBLUE, font=SERIF)
lab(pe, me, 892.5, 529, "t (sec)", 12, angle=math.pi / 2)
lab(pe, me, 1072, 697, "T(K)", 15)
lab(pe, me, 1147, 705, "e", 30, bold=False, font=SERIF)

layout = column(row(pa, pb), row(pc, pd_, pe))
open("out.html", "w").write(file_html(layout, INLINE))
